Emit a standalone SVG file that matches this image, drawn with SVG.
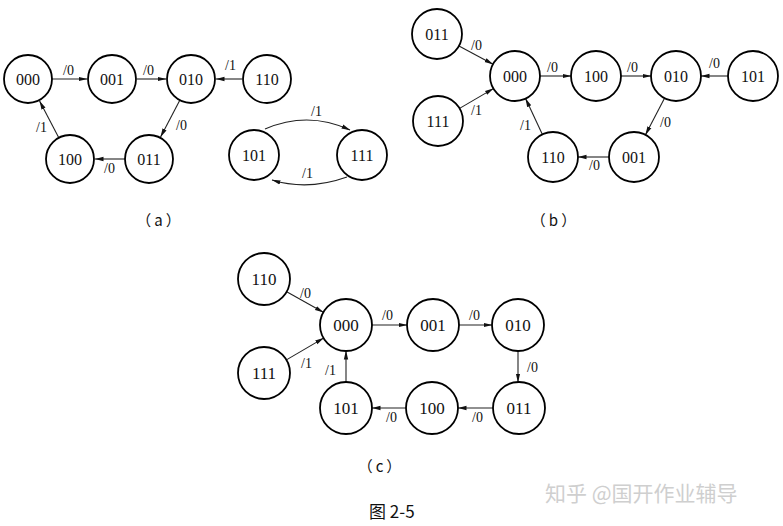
<svg xmlns="http://www.w3.org/2000/svg" width="783" height="526" viewBox="0 0 783 526">
<style>
.n circle{fill:#fff;stroke:#000;stroke-width:1.8}
.n text{font-family:"Liberation Serif",serif;font-size:16px;text-anchor:middle;dominant-baseline:central;fill:#111}
.c text{font-family:"Liberation Serif",serif;font-size:17px}
.e path{fill:none;stroke:#222;stroke-width:1.1;marker-end:url(#ah)}
.l{font-family:"Liberation Serif",serif;font-size:14px;fill:#111}
.cap{font-family:"Noto Sans CJK SC",sans-serif;font-size:15px;fill:#111}
</style>
<defs>
<marker id="ah" markerWidth="9" markerHeight="6" refX="8.5" refY="3" orient="auto" markerUnits="userSpaceOnUse">
<path d="M0,0.8 L9,3 L0,5.2 Z" fill="#111"/>
</marker>
</defs>
<rect width="783" height="526" fill="#fff"/>

<g id="connectors" class="e">
<path d="M52,79 L87,79"/>
<path d="M137,79 L166,79"/>
<path d="M242,79 L216,79"/>
<path d="M179.8,100.2 L160.6,136.9"/>
<path d="M125,159 L95,159"/>
<path d="M58.8,137.8 L39.6,101.1"/>
<path d="M265,129 Q308,110.5 350,130"/>
<path d="M347,177 Q308,191 272,180"/>

<path d="M459,45.9 L493,64.2"/>
<path d="M459.6,108.4 L493.4,88.6"/>
<path d="M540,76 L571,76"/>
<path d="M621,76 L651,76"/>
<path d="M728,76 L701,76"/>
<path d="M664.5,98.2 L645.5,134.8"/>
<path d="M609,157 L578,157"/>
<path d="M542.4,134.4 L525.6,98.6"/>

<path d="M286.7,291.7 L323.3,312.3"/>
<path d="M286.4,359.9 L323.6,338.1"/>
<path d="M372,325 L407,325"/>
<path d="M459,325 L492,325"/>
<path d="M518,351 L518,382"/>
<path d="M493,408 L458,408"/>
<path d="M406,408 L372,408"/>
<path d="M346,382 L346,351"/>
</g>

<g id="edge-labels" class="l">
<text x="63" y="75">/0</text>
<text x="143" y="75">/0</text>
<text x="225" y="70">/1</text>
<text x="176" y="130">/0</text>
<text x="36" y="132">/1</text>
<text x="104" y="173">/0</text>
<text x="311" y="116">/1</text>
<text x="302" y="178">/1</text>

<text x="471" y="50">/0</text>
<text x="471" y="115">/1</text>
<text x="547" y="72">/0</text>
<text x="627" y="72">/0</text>
<text x="709" y="68">/0</text>
<text x="660" y="127">/0</text>
<text x="520" y="130">/1</text>
<text x="589" y="170">/0</text>

<text x="300" y="298">/0</text>
<text x="301" y="368">/1</text>
<text x="325" y="375">/1</text>
<text x="382" y="320">/0</text>
<text x="469" y="320">/0</text>
<text x="527" y="372">/0</text>
<text x="472" y="422">/0</text>
<text x="386" y="422">/0</text>
</g>

<g id="a-000" class="n"><circle cx="28" cy="79" r="24"/><text x="28" y="79">000</text></g>
<g id="a-001" class="n"><circle cx="112" cy="79" r="24"/><text x="112" y="79">001</text></g>
<g id="a-010" class="n"><circle cx="191" cy="79" r="24"/><text x="191" y="79">010</text></g>
<g id="a-110" class="n"><circle cx="267" cy="79" r="24"/><text x="267" y="79">110</text></g>
<g id="a-100" class="n"><circle cx="70" cy="159" r="24"/><text x="70" y="159">100</text></g>
<g id="a-011" class="n"><circle cx="149" cy="159" r="24"/><text x="149" y="159">011</text></g>
<g id="a-101" class="n"><circle cx="254" cy="155" r="25"/><text x="254" y="155">101</text></g>
<g id="a-111" class="n"><circle cx="362" cy="155" r="25"/><text x="362" y="155">111</text></g>

<g id="b-011" class="n"><circle cx="437" cy="34" r="25"/><text x="437" y="34">011</text></g>
<g id="b-111" class="n"><circle cx="438" cy="121" r="25"/><text x="438" y="121">111</text></g>
<g id="b-000" class="n"><circle cx="515" cy="76" r="25"/><text x="515" y="76">000</text></g>
<g id="b-100" class="n"><circle cx="596" cy="76" r="25"/><text x="596" y="76">100</text></g>
<g id="b-010" class="n"><circle cx="676" cy="76" r="25"/><text x="676" y="76">010</text></g>
<g id="b-101" class="n"><circle cx="753" cy="76" r="25"/><text x="753" y="76">101</text></g>
<g id="b-110" class="n"><circle cx="553" cy="157" r="25"/><text x="553" y="157">110</text></g>
<g id="b-001" class="n"><circle cx="634" cy="157" r="25"/><text x="634" y="157">001</text></g>

<g id="c-110" class="n c"><circle cx="264" cy="279" r="26"/><text x="264" y="279">110</text></g>
<g id="c-111" class="n c"><circle cx="264" cy="373" r="26"/><text x="264" y="373">111</text></g>
<g id="c-000" class="n c"><circle cx="346" cy="325" r="26"/><text x="346" y="325">000</text></g>
<g id="c-001" class="n c"><circle cx="433" cy="325" r="26"/><text x="433" y="325">001</text></g>
<g id="c-010" class="n c"><circle cx="518" cy="325" r="26"/><text x="518" y="325">010</text></g>
<g id="c-011" class="n c"><circle cx="519" cy="408" r="26"/><text x="519" y="408">011</text></g>
<g id="c-100" class="n c"><circle cx="432" cy="408" r="26"/><text x="432" y="408">100</text></g>
<g id="c-101" class="n c"><circle cx="346" cy="408" r="26"/><text x="346" y="408">101</text></g>

<g id="captions" class="cap">
<text x="160" y="226" text-anchor="middle" letter-spacing="3">（a）</text>
<text x="555" y="226" text-anchor="middle" letter-spacing="3">（b）</text>
<text x="381" y="472" text-anchor="middle" letter-spacing="3">（c）</text>
<text x="369" y="518" font-size="17">图 2-5</text>
</g>
<text x="545" y="501" font-family="Noto Sans CJK SC,sans-serif" font-size="21" fill="#cfcfcf">知乎 @国开作业辅导</text>
</svg>
